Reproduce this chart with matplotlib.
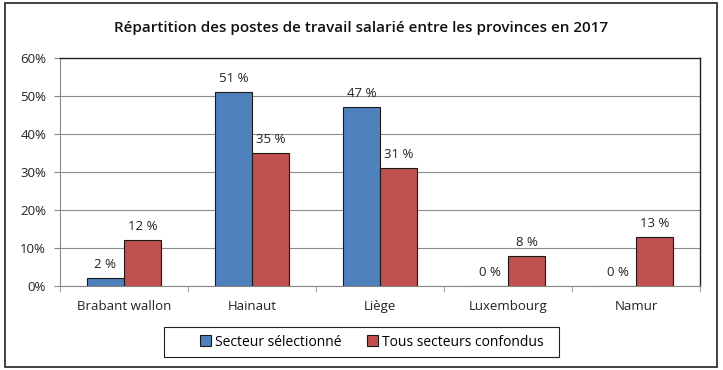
import matplotlib
matplotlib.use("Agg")
import matplotlib.pyplot as plt
from matplotlib.patches import Rectangle
import numpy as np

categories = ["Brabant wallon", "Hainaut", "Liège", "Luxembourg", "Namur"]
secteur = [2, 51, 47, 0, 0]
tous = [12, 35, 31, 8, 13]
series_names = ["Secteur sélectionné", "Tous secteurs confondus"]
yticks = [0, 10, 20, 30, 40, 50, 60]
title = "Répartition des postes de travail salarié entre les provinces en 2017"

plt.rcParams['font.family'] = ['Open Sans', 'DejaVu Sans']

W, H = 723, 370
fig = plt.figure(figsize=(W / 100, H / 100), dpi=100)
fig.patch.set_facecolor("white")

# outer frame
fig.add_artist(Rectangle((5 / W, 3 / H), 712 / W, 364 / H, transform=fig.transFigure,
                         fill=False, edgecolor="#222222", linewidth=1.2))

left, right, top, bottom = 60, 700, 58, 286
ax = fig.add_axes([left / W, 1 - bottom / H, (right - left) / W, (bottom - top) / H])

x = np.arange(len(categories))
w = 0.29
blue = "#4F81BD"
red = "#C0504D"
b1 = ax.bar(x - w / 2, secteur, w, color=blue, edgecolor="#1a1a1a", linewidth=0.8,
            label=series_names[0], zorder=3)
b2 = ax.bar(x + w / 2, tous, w, color=red, edgecolor="#1a1a1a", linewidth=0.8,
            label=series_names[1], zorder=3)

for rects, vals in ((b1, secteur), (b2, tous)):
    for r, v in zip(rects, vals):
        ax.annotate(f"{v} %", (r.get_x() + r.get_width() / 2, v), xytext=(0, 5),
                    textcoords="offset points", ha="center", va="bottom",
                    fontsize=9.5, color="#222222")

ax.set_xlim(-0.5, len(categories) - 0.5)
ax.set_ylim(0, 60)
ax.set_yticks(yticks)
ax.set_yticklabels([f"{t}%" for t in yticks], fontsize=9.5, color="#222222")
ax.set_xticks(x)
ax.set_xticklabels(categories, fontsize=9.5, color="#222222")
ax.tick_params(axis="x", length=0, pad=10)
ax.tick_params(axis="y", length=4, color="#888888", pad=6)
ax.set_xticks(np.arange(-0.5, len(categories)), minor=True)
ax.tick_params(axis="x", which="minor", length=4, color="#888888")

ax.yaxis.grid(True, color="#8c8c8c", linewidth=0.8, zorder=0)
ax.set_axisbelow(True)
for s in ("top", "right"):
    ax.spines[s].set_color("#222222")
    ax.spines[s].set_linewidth(1.0)
for s in ("left", "bottom"):
    ax.spines[s].set_color("#888888")
    ax.spines[s].set_linewidth(0.8)

fig.text(0.5, 1 - 28 / H, title, ha="center", va="center", fontsize=11,
         fontweight="semibold", color="#111111")

# legend box
fig.add_artist(Rectangle((164 / W, 1 - 357 / H), 395 / W, 30 / H, transform=fig.transFigure,
                         fill=False, edgecolor="#222222", linewidth=0.8))
leg = fig.legend(handles=[b1, b2], labels=series_names, loc="center",
                 bbox_to_anchor=(372 / W, 1 - 342 / H), ncol=2,
                 fontsize=10, frameon=False,
                 handlelength=0.8, handleheight=0.8, handletextpad=0.3,
                 columnspacing=1.8, borderpad=0.3)

fig.savefig("out.png", dpi=100)
